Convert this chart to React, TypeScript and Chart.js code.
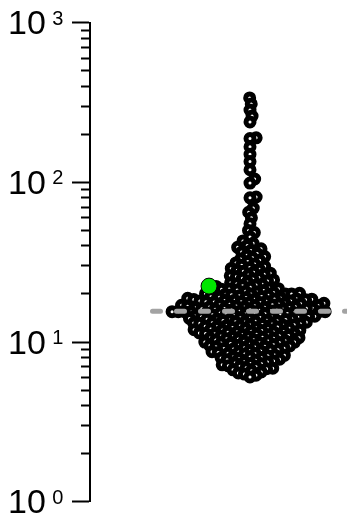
import { useEffect, useRef } from 'react';
import { Chart, registerables } from 'chart.js';

Chart.register(...registerables);

// ---- data ----
const upperValues = [338, 310, 284, 260, 239, 190, 188, 167, 150, 135, 120, 105, 99, 81, 80, 69, 65, 60, 55, 50];
const bodyValues = [
  48.5, 45.5, 43, 41.5, 40.3, 39.2, 38.4, 37.5, 36.6, 35.8,
  35.0, 34.3, 33.7, 33.1, 32.5, 31.9, 31.3, 30.8,
  30.3, 29.8, 29.3, 28.9, 28.6, 28.2, 27.8, 27.4, 27.0, 26.6,
  26.3, 26.0, 25.7, 25.4, 25.1, 24.8,
  24.5, 24.1, 23.8, 23.5, 23.2, 23.0,
  22.8, 22.5, 22.3, 22.0, 21.8, 21.6, 21.5, 21.4,
  21.2, 21.0, 20.8, 20.6, 20.4, 20.2, 20.1, 20.0, 20.0, 20.0, 19.95,
  19.8, 19.6, 19.5, 19.3, 19.2, 19.1, 19.0, 18.9, 18.8, 18.7, 18.6, 18.55, 18.5,
  18.45, 18.4, 18.3, 18.2, 18.1, 18.05, 18.0, 17.9, 17.85, 17.8, 17.7, 17.6, 17.55, 17.5, 17.4, 17.3, 17.25,
  17.15, 17.1, 17.0, 16.95, 16.9, 16.8, 16.75, 16.7, 16.6, 16.55, 16.5, 16.45, 16.4, 16.3, 16.25, 16.2, 16.15, 16.1, 16.05,
  15.95, 15.9, 15.85, 15.8, 15.7, 15.6, 15.5, 15.5, 15.5, 15.5, 15.5, 15.5, 15.4, 15.3, 15.25, 15.2, 15.1, 15.05, 15.0, 14.95,
  14.85, 14.8, 14.7, 14.65, 14.6, 14.5, 14.45, 14.4, 14.35, 14.3, 14.25, 14.2, 14.1, 14.05, 14.0, 13.95, 13.9,
  13.85, 13.8, 13.7, 13.65, 13.6, 13.5, 13.4, 13.35, 13.3, 13.2, 13.15, 13.1, 13.0, 12.95, 12.9,
  12.85, 12.8, 12.75, 12.7, 12.6, 12.55, 12.5, 12.4, 12.35, 12.3, 12.2, 12.15, 12.1, 12.05,
  11.95, 11.9, 11.85, 11.8, 11.7, 11.65, 11.6, 11.55, 11.5, 11.4, 11.35, 11.3, 11.25, 11.2,
  11.15, 11.1, 11.0, 10.95, 10.9, 10.85, 10.8, 10.7, 10.65, 10.6, 10.55, 10.5, 10.45,
  10.35, 10.3, 10.2, 10.15, 10.1, 10.0, 10.0, 9.95, 9.9, 9.85, 9.8, 9.7,
  9.6, 9.55, 9.5, 9.45, 9.4, 9.35, 9.3, 9.2, 9.15, 9.1, 9.05,
  8.95, 8.9, 8.85, 8.8, 8.7, 8.65, 8.6, 8.5, 8.45, 8.4,
  8.3, 8.25, 8.2, 8.1, 8.05, 8.0, 7.95, 7.9, 7.8,
  7.75, 7.7, 7.6, 7.55, 7.5, 7.4, 7.35, 7.3,
  7.2, 7.1, 7.05, 7.0, 6.9, 6.85, 6.8,
  6.7, 6.6, 6.5, 6.4, 6.3,
  6.2, 6.05,
];
const highlightValue = 22.4;
const medianValue = 15.6;
const medianSpan = [-97.5, 110];
const majorTicks = [1, 10, 100, 1000];
const minorSteps = [2, 3, 4, 5, 6, 7, 8, 9];
const tickExponents = ['0', '1', '2', '3'];

// ---- layout constants ----
const W = 347;
const H = 516;
const PAD_TOP = 22.7;
const PAD_BOTTOM = 14.3;
const PAD_LEFT = 72;
const TICK_LEN = 18;
const X_MIN = -160;
const X_MAX = 97;
const DIAM = 6.2;
const DIAM_HI = 7;

type P = { x: number; y: number };

// side: 0 = either side, -1 = left side only
function place(placed: P[], y: number, d: number, side: number): number {
  const near = placed.filter((p) => Math.abs(p.y - y) < d);
  let cands = [0];
  for (const p of near) {
    const dx = Math.sqrt(d * d - (p.y - y) * (p.y - y));
    cands.push(p.x + dx, p.x - dx);
  }
  if (side < 0) cands = cands.filter((c) => c <= 0);
  cands.sort((a, b) => {
    const da = Math.abs(a) - Math.abs(b);
    if (Math.abs(da) > 1e-9) return da;
    return b - a;
  });
  for (const c of cands) {
    if (near.every((p) => (p.x - c) ** 2 + (p.y - y) ** 2 >= d * d - 1e-6)) return c;
  }
  return 0;
}

function swarm(values: number[], pxPerDecade: number, d: number) {
  const order = values.map((_, i) => i).sort((a, b) => values[a] - values[b]);
  const placed: P[] = [];
  const xs = new Array(values.length).fill(0);
  for (const i of order) {
    const y = Math.log10(values[i]) * pxPerDecade;
    const x = place(placed, y, d, 0);
    xs[i] = x;
    placed.push({ x, y });
  }
  return { xs, placed };
}

const labelPlugin = {
  id: 'powLabels',
  afterDraw(chart: any) {
    const scale = chart.scales.y;
    const ctx = chart.ctx;
    ctx.save();
    ctx.fillStyle = '#000';
    ctx.textBaseline = 'alphabetic';
    ctx.textAlign = 'left';
    majorTicks.forEach((v, i) => {
      const y = scale.getPixelForValue(v);
      ctx.font = '34px "Liberation Sans", Arial, sans-serif';
      ctx.fillText('10', 8, y + 11.5);
      const w = ctx.measureText('10').width;
      ctx.font = '20px "Liberation Sans", Arial, sans-serif';
      ctx.fillText(tickExponents[i], 8 + w + 6.5, y + 2);
    });
    ctx.restore();
  },
};

export default function App() {
  const ref = useRef<HTMLCanvasElement | null>(null);

  useEffect(() => {
    if (!ref.current) return;
    const pxPerDecade = (H - PAD_TOP - PAD_BOTTOM) / 3;
    const all = [...upperValues, ...bodyValues];
    const { xs, placed } = swarm(all, pxPerDecade, DIAM);
    const blackPts = all.map((v, i) => ({ x: xs[i], y: v }));
    const hiX = place(placed, Math.log10(highlightValue) * pxPerDecade, DIAM_HI, -1);
    const greenPts = [{ x: hiX, y: highlightValue }];

    const tickValues: number[] = [];
    majorTicks.forEach((m, k) => {
      tickValues.push(m);
      if (k < majorTicks.length - 1) minorSteps.forEach((s) => tickValues.push(m * s));
    });

    const chart = new Chart(ref.current, {
      type: 'scatter',
      data: {
        datasets: [
          {
            type: 'line',
            data: medianSpan.map((x) => ({ x, y: medianValue })),
            borderColor: '#a3a3a3',
            borderWidth: 5,
            borderDash: [8, 16],
            borderCapStyle: 'round',
            pointRadius: 0,
            order: 0,
          } as any,
          {
            data: greenPts,
            pointRadius: 8,
            backgroundColor: '#00e600',
            borderColor: '#000',
            borderWidth: 1,
            order: 1,
          },
          {
            data: blackPts,
            pointRadius: 4,
            backgroundColor: '#fff',
            borderColor: '#000',
            borderWidth: 5,
            order: 2,
          },
        ],
      },
      options: {
        animation: false,
        responsive: false,
        devicePixelRatio: 1,
        layout: { autoPadding: false, padding: { top: PAD_TOP, bottom: PAD_BOTTOM, left: PAD_LEFT, right: 0 } },
        plugins: { legend: { display: false }, tooltip: { enabled: false } },
        scales: {
          x: { type: 'linear', min: X_MIN, max: X_MAX, display: false },
          y: {
            type: 'logarithmic',
            min: 1,
            max: 1000,
            position: 'left',
            afterBuildTicks: (scale: any) => {
              scale.ticks = tickValues.map((value) => ({ value }));
            },
            afterFit: (scale: any) => {
              scale.width = TICK_LEN;
            },
            ticks: { display: false, autoSkip: false },
            grid: {
              drawOnChartArea: false,
              drawTicks: true,
              tickLength: TICK_LEN,
              tickWidth: 2,
              tickColor: '#000',
              tickBorderDash: (ctx: any) => {
                const v = ctx.tick ? ctx.tick.value : 1;
                const lg = Math.log10(v);
                return Math.abs(lg - Math.round(lg)) < 1e-9 ? [] : [0, 9, 9, 0];
              },
            },
            border: { display: true, color: '#000', width: 2 },
          },
        },
      },
      plugins: [labelPlugin],
    });
    return () => chart.destroy();
  }, []);

  return (
    <div style={{ position: 'absolute', left: 0, top: 0, width: W, height: H }}>
      <canvas ref={ref} width={W} height={H} style={{ display: 'block' }} />
    </div>
  );
}
